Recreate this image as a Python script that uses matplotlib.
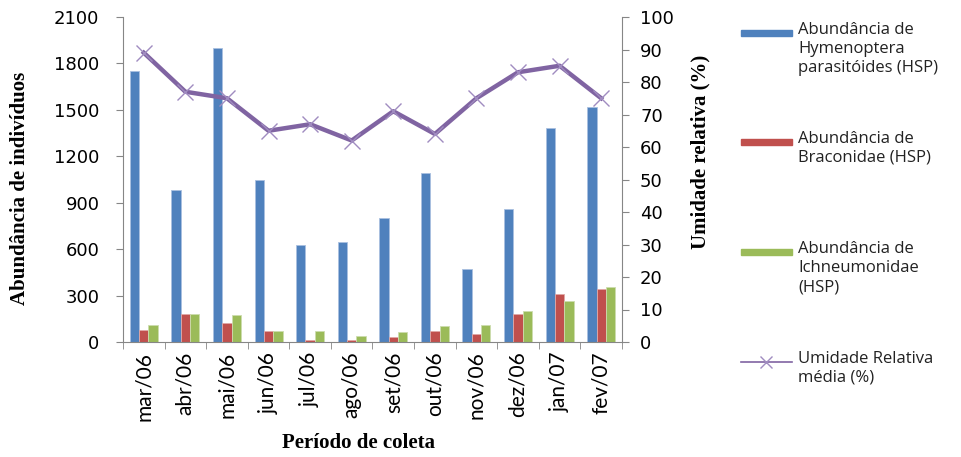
import numpy as np
import matplotlib.pyplot as plt
from matplotlib.lines import Line2D
from matplotlib.patches import Rectangle

meses = ['mar/06', 'abr/06', 'mai/06', 'jun/06', 'jul/06', 'ago/06',
         'set/06', 'out/06', 'nov/06', 'dez/06', 'jan/07', 'fev/07']
hymenoptera = [1750, 980, 1900, 1050, 630, 645, 800, 1095, 470, 860, 1382, 1520]
braconidae = [80, 183, 125, 73, 15, 15, 34, 71, 54, 181, 312, 344]
ichneumonidae = [112, 183, 174, 73, 73, 41, 65, 103, 112, 200, 265, 353]
umidade = [89, 77, 75, 65, 67, 62, 71, 64, 75, 83, 85, 75]

rotulos = ['Abundância de\nHymenoptera\nparasitóides (HSP)',
           'Abundância de\nBraconidae (HSP)',
           'Abundância de\nIchneumonidae\n(HSP)',
           'Umidade Relativa\nmédia (%)']

azul, vermelho, verde, roxo = '#4F81BD', '#C0504D', '#9BBB59', '#8064A2'
cinza = '#868686'

W, H = 962, 457
fig = plt.figure(figsize=(W / 100, H / 100), dpi=100)
ax = fig.add_axes([123 / W, 1 - 342 / H, 499 / W, 325 / H])

x = np.arange(len(meses))
w = 0.225
ax.bar(x - w, hymenoptera, w, color=azul, edgecolor='#a9c0e0', linewidth=0.6)
ax.bar(x, braconidae, w, color=vermelho, edgecolor='#e0a9a7', linewidth=0.6)
ax.bar(x + w, ichneumonidae, w, color=verde, edgecolor='#cddcae', linewidth=0.6)

ax.set_xlim(-0.5, len(meses) - 0.5)
ax.set_ylim(0, 2100)
ax.set_yticks(np.arange(0, 2101, 300))
ax.set_xticks(x)
ax.set_xticklabels(meses, rotation=90, family='Lato', fontsize=15)
ax.set_xticks(np.arange(-0.5, len(meses), 1), minor=True)
ax.tick_params(axis='x', which='major', length=0, pad=7)
ax.tick_params(axis='x', which='minor', length=5, color=cinza, direction='out')
ax.tick_params(axis='y', length=5, color=cinza, labelsize=13, pad=12)
for s in ['top', 'right']:
    ax.spines[s].set_visible(False)
for s in ['left', 'bottom']:
    ax.spines[s].set_color(cinza)

ax2 = ax.twinx()
ax2.plot(x, umidade, color=roxo, linewidth=3.2, marker='x', markersize=12,
         markeredgewidth=1.0, markeredgecolor='#a08cc0', solid_joinstyle='round')
ax2.set_ylim(0, 100)
ax2.set_yticks(np.arange(0, 101, 10))
ax2.tick_params(axis='y', length=5, color=cinza, labelsize=13, pad=8)
for s in ['top', 'left', 'bottom']:
    ax2.spines[s].set_visible(False)
ax2.spines['right'].set_color(cinza)

serif = dict(family='Liberation Serif', fontweight='bold', fontsize=15)
fig.text(20 / W, 1 - 188 / H, 'Abundância de indivíduos', rotation=90,
         ha='center', va='center', **serif)
fig.text(700 / W, 1 - 152 / H, 'Umidade relativa (%)', rotation=90,
         ha='center', va='center', **serif)
fig.text(358 / W, 1 - 443 / H, 'Período de coleta', ha='center', va='center', **serif)

# legenda manual, alinhada pela primeira linha como no Excel
ys = [33, 142, 252, 362]
cores = [azul, vermelho, verde]
for i, (y, txt) in enumerate(zip(ys, rotulos)):
    if i < 3:
        fig.add_artist(Rectangle((741 / W, 1 - (y + 3) / H), 51 / W, 6 / H,
                                 transform=fig.transFigure, color=cores[i]))
    else:
        fig.add_artist(Line2D([741 / W, 792 / W], [1 - y / H, 1 - y / H],
                              transform=fig.transFigure, color=roxo, linewidth=1.2))
        fig.add_artist(Line2D([766 / W], [1 - y / H], transform=fig.transFigure,
                              marker='x', color='#a08cc0', markersize=9,
                              markeredgewidth=1.0, linestyle='none'))
    fig.text(798 / W, 1 - (y - 11) / H, txt, ha='left', va='top', family='Open Sans',
             fontsize=12, linespacing=1.25, color='#222222')

fig.savefig('out.png', dpi=100)
